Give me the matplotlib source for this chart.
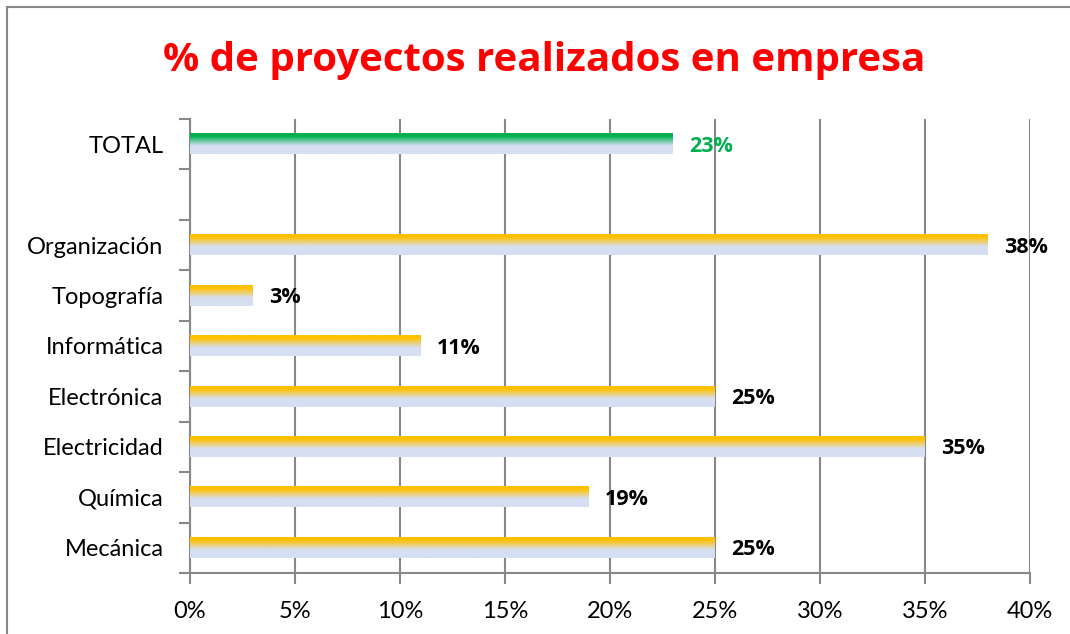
import matplotlib
matplotlib.use("Agg")
import matplotlib.pyplot as plt
import numpy as np
from matplotlib.colors import to_rgb
from matplotlib.ticker import FuncFormatter
from matplotlib.patches import Rectangle

categories = ['Mecánica', 'Química', 'Electricidad', 'Electrónica', 'Informática',
              'Topografía', 'Organización', '', 'TOTAL']
values = [25, 19, 35, 25, 11, 3, 38, None, 23]
bar_kind = ['dept'] * 7 + [None, 'total']
xticks = [0, 5, 10, 15, 20, 25, 30, 35, 40]

plt.rcParams['font.family'] = ['Lato', 'DejaVu Sans']
bold_font = ['Open Sans', 'DejaVu Sans']

fig = plt.figure(figsize=(10.7, 6.34), dpi=100)
ax = fig.add_axes([190 / 1070, 1 - 573 / 634, 840 / 1070, 454 / 634])

top_colors = {'dept': '#FFC000', 'total': '#00B050'}
base = np.array(to_rgb('#D6DFF2'))
label_colors = {'dept': '#000000', 'total': '#00B050'}
h = 0.4

for i, (v, k) in enumerate(zip(values, bar_kind)):
    if v is None:
        continue
    top = np.array(to_rgb(top_colors[k]))
    n = 80
    t = np.linspace(0, 1, n)  # 0 top -> 1 bottom
    w = np.clip(1 - (t - 0.15) / 0.45, 0, 1)
    grad = top[None, :] * w[:, None] + base[None, :] * (1 - w[:, None])
    img = grad[:, None, :]
    ax.imshow(img, extent=(0, v, i - h / 2, i + h / 2), origin='upper',
              aspect='auto', zorder=3, interpolation='bilinear')
    ax.text(v + 0.75, i - 0.04, f'{v}%', va='center', ha='left', fontsize=15.5,
            fontweight='bold', color=label_colors[k], zorder=4, family=bold_font)

ax.set_xlim(0, 40)
ax.set_ylim(-0.5, len(categories) - 0.5)
ax.set_xticks(xticks)
ax.xaxis.set_major_formatter(FuncFormatter(lambda x, p: f'{int(x)}%'))
ax.set_yticks(range(len(categories)))
ax.set_yticklabels(categories)
ax.set_yticks(np.arange(-0.5, len(categories), 1.0), minor=True)
ax.tick_params(axis='y', which='major', length=0, pad=19, labelsize=17)
ax.tick_params(axis='y', which='minor', length=8, width=1.5, color='#888888')
ax.tick_params(axis='x', length=8, width=1.5, color='#888888', labelsize=17, pad=12)
ax.grid(axis='x', color='#888888', linewidth=1.5, zorder=0)
ax.set_axisbelow(True)
for s in ['top', 'right']:
    ax.spines[s].set_visible(False)
for s in ['left', 'bottom']:
    ax.spines[s].set_color('#888888')
    ax.spines[s].set_linewidth(1.5)

fig.text(544 / 1070, 1 - 60 / 634, '% de proyectos realizados en empresa',
         ha='center', va='center', fontsize=29, fontweight='bold', color='#FF0000',
         family=bold_font)

fig.add_artist(Rectangle((7 / 1070, -0.1), 1.2, 1 - 7 / 634 + 0.1,
                         transform=fig.transFigure, fill=False,
                         edgecolor='#888888', linewidth=1.5))

fig.savefig('out.png', dpi=100)
